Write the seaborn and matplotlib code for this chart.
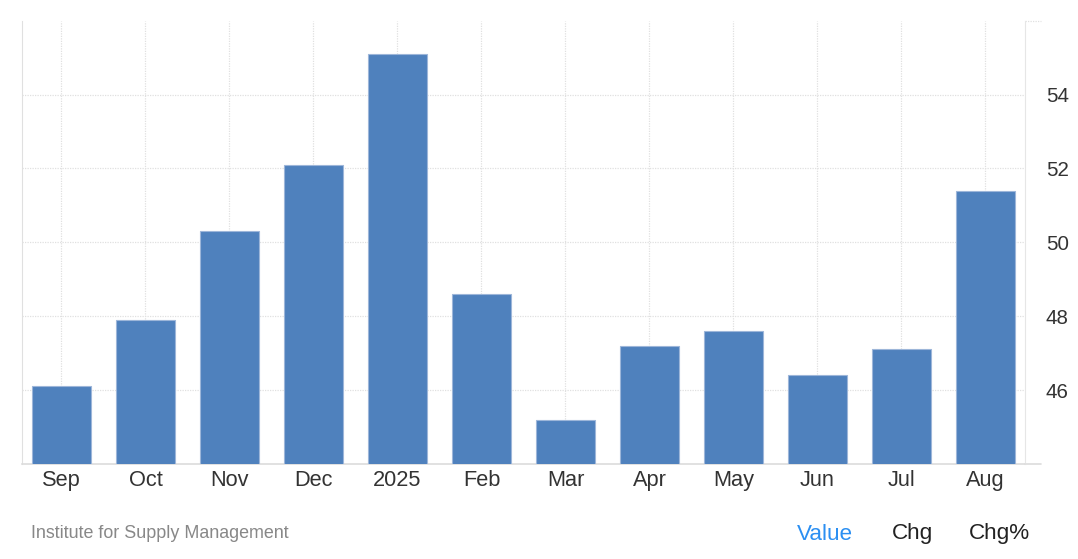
import matplotlib
matplotlib.use("Agg")
import matplotlib.pyplot as plt
import seaborn as sns
import pandas as pd

# ISM values
months = ['Sep', 'Oct', 'Nov', 'Dec', '2025', 'Feb', 'Mar', 'Apr', 'May', 'Jun', 'Jul', 'Aug']
values = [46.1, 47.9, 50.3, 52.1, 55.1, 48.6, 45.2, 47.2, 47.6, 46.4, 47.1, 51.4]
y_ticks = [46, 48, 50, 52, 54]
source = "Institute for Supply Management"
footer_tabs = ['Value', 'Chg', 'Chg%']

df = pd.DataFrame({'month': months, 'value': values})

sns.set_style("white")
plt.rcParams['font.family'] = ['Liberation Sans', 'DejaVu Sans']

fig = plt.figure(figsize=(10.78, 5.59), dpi=100)
ax = fig.add_axes([0.0204, 0.170, 0.9304, 0.793])

sns.barplot(data=df, x='month', y='value', color='#4f81bd', saturation=1,
            width=0.71, edgecolor='#9db6d9', linewidth=0.8, ax=ax, zorder=3)

ax.set_ylim(44, 56)
ax.set_xlim(-0.47, len(months) - 0.53)
ax.set_yticks(y_ticks)
ax.yaxis.tick_right()
ax.set_xlabel('')
ax.set_ylabel('')

# dotted light grid behind the bars
ax.grid(True, which='major', axis='both', color='#e0e0e0', linestyle=(0, (1, 1)),
        linewidth=0.9, zorder=0)
ax.set_axisbelow(True)

ax.spines['top'].set_visible(False)
ax.spines['left'].set_color('#e0e0e0')
ax.spines['right'].set_color('#e6e6e6')
ax.spines['bottom'].set_color('#dcdcdc')
ax.spines['bottom'].set_linewidth(1.2)

ax.tick_params(axis='x', length=0, pad=4, labelsize=15.7, labelcolor='#333333')
ax.tick_params(axis='y', length=0, pad=15, labelsize=14.8, labelcolor='#333333')

# extend top grid line and bottom axis line a little past the right spine
ax.plot([1.0, 1.016], [1.0, 1.0], transform=ax.transAxes, color='#e0e0e0',
        linestyle=(0, (1, 1)), linewidth=0.9, clip_on=False)
ax.plot([1.0, 1.016], [0.0, 0.0], transform=ax.transAxes, color='#dcdcdc',
        linewidth=1.2, clip_on=False)

fig.text(31 / 1078, 1 - 534 / 559, source, color='#888888', fontsize=12.9,
         va='center', ha='left')
tab_x = [825, 912.5, 999.5]
tab_colors = ['#2b8ff2', '#222222', '#222222']
for label, xp, c in zip(footer_tabs, tab_x, tab_colors):
    fig.text(xp / 1078, 1 - 534 / 559, label, color=c, fontsize=16.2,
             va='center', ha='center')

fig.savefig('out.png', dpi=100)
